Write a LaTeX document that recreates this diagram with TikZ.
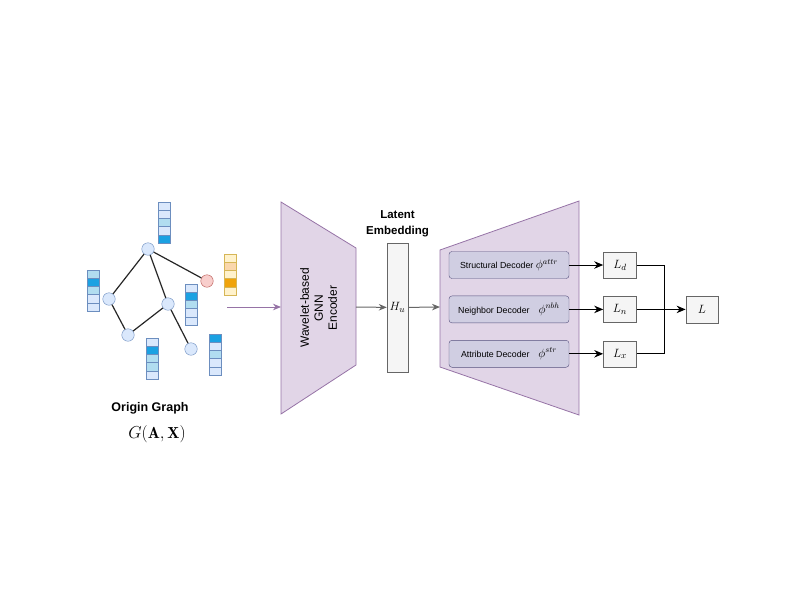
\documentclass[tikz,border=0pt]{standalone}
\usepackage{amsmath}
\usepackage{fontspec}
\setsansfont{Liberation Sans}
\usetikzlibrary{arrows.meta, positioning, calc}

\definecolor{NodeFill}{HTML}{DAE8FC}
\definecolor{NodeLine}{HTML}{6C8EBF}
\definecolor{CellMid}{HTML}{B1DDF0}
\definecolor{CellDark}{HTML}{1BA1E2}
\definecolor{RedFill}{HTML}{F8CECC}
\definecolor{RedLine}{HTML}{B85450}
\definecolor{YelFill}{HTML}{FFF2CC}
\definecolor{YelLine}{HTML}{D6B656}
\definecolor{OrgMid}{HTML}{FAD7AC}
\definecolor{OrgDark}{HTML}{F0A30A}
\definecolor{EncFill}{HTML}{E1D5E7}
\definecolor{EncLine}{HTML}{9673A6}
\definecolor{DecFill}{HTML}{D0CEE2}
\definecolor{DecLine}{HTML}{56517E}
\definecolor{GreyFill}{HTML}{F5F5F5}
\definecolor{GreyLine}{HTML}{666666}

% feature vector: name, x, top y, border colour, cell colours
\newcommand{\featvec}[5]{%
    \foreach \c [count=\i] in {#5}
        \node[cell, draw=#4, fill=\c] (#1-\i) at (#2, #3+8.2*\i-4.1) {};
}
% decoder symbol
\newcommand{\decsym}[1]{{\fontsize{12}{12}\selectfont$\phi^{#1}$}}

\begin{document}
\begin{tikzpicture}[x=1pt, y=-1pt,
        gnode/.style={circle, draw=NodeLine, fill=NodeFill, minimum size=12.5pt, inner sep=0pt},
        cell/.style={rectangle, minimum width=12pt, minimum height=8.2pt, inner sep=0pt, line width=0.6pt},
        edge/.style={line width=1.2pt, draw=black!85},
        decbox/.style={rectangle, draw=DecLine, fill=DecFill, rounded corners=3pt, minimum width=120pt, minimum height=27pt, inner sep=2pt, font=\sffamily\fontsize{8.8}{10}\selectfont},
        lossbox/.style={rectangle, draw=GreyLine, fill=GreyFill, minimum width=33pt, minimum height=26pt, inner sep=0pt, font=\fontsize{12.5}{14}\selectfont},
        arrow/.style={-{Stealth[length=9pt, width=7.5pt]}, line width=1pt},
        greyarrow/.style={-{Stealth[length=8pt, width=6.5pt]}, line width=1pt, draw=GreyLine},
        purplearrow/.style={-{Stealth[length=8pt, width=6.5pt]}, line width=1pt, draw=EncLine}
    ]
    \useasboundingbox (0,0) rectangle (800,600);

    % origin graph
    \node[gnode] (top) at (148,249) {};
    \node[gnode] (left) at (109,299) {};
    \node[gnode] (mid) at (168,304) {};
    \node[gnode] (botl) at (128,335) {};
    \node[gnode] (botr) at (191,349) {};
    \node[gnode, draw=RedLine, fill=RedFill] (red) at (207,281) {};
    \draw[edge] (top) -- (left);
    \draw[edge] (top) -- (red);
    \draw[edge] (top) -- (mid);
    \draw[edge] (left) -- (botl);
    \draw[edge] (botl) -- (mid);
    \draw[edge] (mid) -- (botr);

    \featvec{vtop}{164}{202}{NodeLine}{NodeFill, NodeFill, CellMid, NodeFill, CellDark}
    \featvec{vleft}{93}{270}{NodeLine}{CellMid, CellDark, CellMid, NodeFill, NodeFill}
    \featvec{vmid}{191}{284}{NodeLine}{NodeFill, CellDark, CellMid, NodeFill, NodeFill}
    \featvec{vbotl}{152.5}{338}{NodeLine}{NodeFill, CellDark, CellMid, CellMid, NodeFill}
    \featvec{vbotr}{215}{334}{NodeLine}{CellDark, NodeFill, CellMid, NodeFill, NodeFill}
    \featvec{vred}{230.5}{254}{YelLine}{YelFill, OrgMid, YelFill, OrgDark, YelFill}

    \node[font=\sffamily\bfseries\fontsize{12.5}{14}\selectfont] (gtitle) at (150,408) {Origin Graph};
    \node[font=\fontsize{16}{18}\selectfont] (gform) at (157,434) {$G(\mathbf{A},\mathbf{X})$};

    % encoder
    \draw[draw=EncLine, fill=EncFill, line width=0.8pt] (281,202) -- (356,248) -- (356,365) -- (281,414) -- cycle;
    \node[rotate=90, align=center, font=\sffamily\fontsize{12}{14}\selectfont] (enc) at (318.5,308) {Wavelet-based\\GNN\\Encoder};
    \coordinate (gout) at (227,307);
    \coordinate (encin) at (281,307);
    \coordinate (encout) at (356,307);

    % latent embedding
    \node[rectangle, draw=GreyLine, fill=GreyFill, minimum width=21pt, minimum height=129pt, inner sep=0pt, font=\fontsize{12.5}{14}\selectfont] (hu) at (397.5,307.5) {$H_u$};
    \node[above=2pt of hu, align=center, font=\sffamily\bfseries\fontsize{11.5}{16}\selectfont] (latent) {Latent\\Embedding};

    % decoder
    \draw[draw=EncLine, fill=EncFill, line width=0.8pt] (440,250) -- (579,201) -- (579,415) -- (440,367) -- cycle;
    \coordinate (decin) at (440,307);
    \node[decbox] (sdec) at (509,265) {Structural Decoder \decsym{attr}};
    \node[decbox, below=17pt of sdec] (ndec) {Neighbor Decoder\hspace{9pt}\decsym{nbh}};
    \node[decbox, below=17pt of ndec] (adec) {Attribute Decoder\hspace{9pt}\decsym{str}};

    % losses
    \node[lossbox, right=34pt of sdec] (ld) {$L_d$};
    \node[lossbox, right=34pt of ndec] (ln) {$L_n$};
    \node[lossbox, right=34pt of adec] (lx) {$L_x$};
    \node[lossbox, minimum width=32pt, minimum height=27pt, right=49pt of ln] (loss) {$L$};
    \coordinate (join) at (664,308);

    \draw[purplearrow] (gout) -- (encin);
    \draw[greyarrow] (encout) -- (hu);
    \draw[greyarrow] (hu) -- (decin);
    \draw[arrow] (sdec) -- (ld);
    \draw[arrow] (ndec) -- (ln);
    \draw[arrow] (adec) -- (lx);
    \draw[line width=1pt] (ld.east) -| (join);
    \draw[line width=1pt] (lx.east) -| (join);
    \draw[arrow] (ln) -- (loss);
\end{tikzpicture}
\end{document}
